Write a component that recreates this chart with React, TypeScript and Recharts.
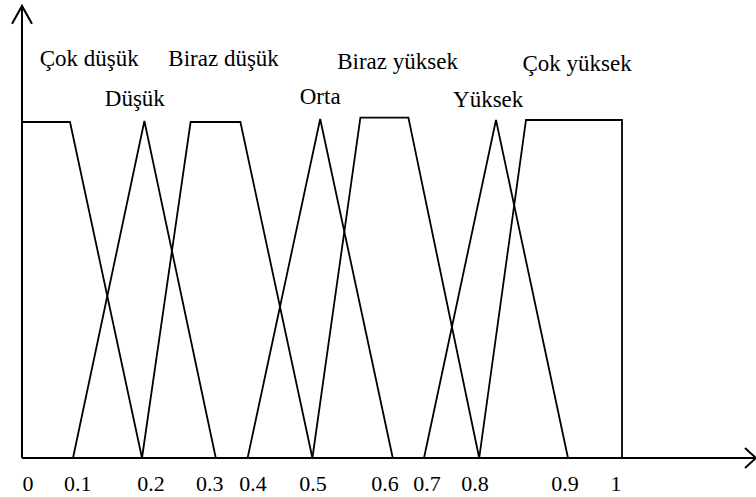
import { LineChart, Line, XAxis, YAxis, ReferenceDot } from "recharts"

// membership functions (x in 0..1 units, y = membership degree)
const cokDusuk = [
  { x: 0, y: 1 },
  { x: 0.08, y: 1 },
  { x: 0.2, y: 0 },
]
const dusuk = [
  { x: 0.085, y: 0 },
  { x: 0.204, y: 1.003 },
  { x: 0.323, y: 0 },
]
const birazDusuk = [
  { x: 0.2, y: 0 },
  { x: 0.281, y: 1 },
  { x: 0.364, y: 1 },
  { x: 0.484, y: 0 },
]
const orta = [
  { x: 0.376, y: 0 },
  { x: 0.497, y: 1.009 },
  { x: 0.618, y: 0 },
]
const birazYuksek = [
  { x: 0.484, y: 0 },
  { x: 0.564, y: 1.013 },
  { x: 0.644, y: 1.013 },
  { x: 0.762, y: 0 },
]
const yuksek = [
  { x: 0.67, y: 0 },
  { x: 0.79, y: 1.006 },
  { x: 0.91, y: 0 },
]
const cokYuksek = [
  { x: 0.762, y: 0 },
  { x: 0.84, y: 1.006 },
  { x: 1.0, y: 1.006 },
  { x: 1.0, y: 0 },
]

const seriesNames = ["Çok düşük", "Düşük", "Biraz düşük", "Orta", "Biraz yüksek", "Yüksek", "Çok yüksek"]
const seriesData = [cokDusuk, dusuk, birazDusuk, orta, birazYuksek, yuksek, cokYuksek]

// where each name sits (x centre, baseline y), in chart units
const labelX = [0.112, 0.188, 0.336, 0.497, 0.626, 0.777, 0.925]
const labelY = [1.166, 1.047, 1.166, 1.053, 1.157, 1.044, 1.151]

const tickLabels = ["0", "0.1", "0.2", "0.3", "0.4", "0.5", "0.6", "0.7", "0.8", "0.9", "1"]
const tickValues = [0.01, 0.093, 0.215, 0.313, 0.385, 0.485, 0.605, 0.675, 0.755, 0.905, 0.99]

const X_MAX = 734 / 600
const Y_MAX = 452 / 336
const FONT = "'Liberation Serif', 'Times New Roman', serif"

export default function App() {
  return (
    <div style={{ position: "absolute", left: 0, top: 0, fontFamily: FONT }}>
      <svg width={0} height={0} style={{ position: "absolute" }}>
        <defs>
          <marker id="arrowY" markerUnits="userSpaceOnUse" markerWidth={20} markerHeight={22} viewBox="-1 -1 19 21"
            refX={17} refY={9.5} orient="auto-start-reverse" overflow="visible">
            <path d="M0,0 L17,9.5 L0,19" fill="none" stroke="#000" strokeWidth={2} />
          </marker>
          <marker id="arrowX" markerUnits="userSpaceOnUse" markerWidth={14} markerHeight={22} viewBox="-1 -1 13 22"
            refX={11} refY={10} orient="auto" overflow="visible">
            <path d="M0,0 L11,10 L0,20" fill="none" stroke="#000" strokeWidth={2} />
          </marker>
        </defs>
      </svg>
      <LineChart width={756} height={497} margin={{ top: 6, right: 0, bottom: 0, left: 0 }}>
        <XAxis
          type="number"
          dataKey="x"
          domain={[0, X_MAX]}
          ticks={tickValues}
          interval={0}
          tickFormatter={(v) => tickLabels[tickValues.indexOf(v)]}
          height={39}
          tickLine={false}
          tickSize={0}
          tickMargin={17}
          tick={{ fill: "#000", fontSize: 22, fontFamily: FONT }}
          axisLine={{ stroke: "#000", strokeWidth: 2, markerEnd: "url(#arrowX)" }}
        />
        <YAxis
          type="number"
          domain={[0, Y_MAX]}
          width={22}
          tick={false}
          tickLine={false}
          axisLine={{ stroke: "#000", strokeWidth: 2, markerStart: "url(#arrowY)" }}
        />
        {seriesData.map((pts, i) => (
          <Line
            key={seriesNames[i]}
            data={pts}
            dataKey="y"
            type="linear"
            stroke="#000"
            strokeWidth={1.8}
            dot={false}
            activeDot={false}
            isAnimationActive={false}
          />
        ))}
        {seriesNames.map((name, i) => (
          <ReferenceDot
            key={"lbl-" + name}
            x={labelX[i]}
            y={labelY[i]}
            r={0}
            fill="none"
            stroke="none"
            ifOverflow="visible"
            label={(p: any) => (
              <text x={p.viewBox.x} y={p.viewBox.y} textAnchor="middle" fill="#000" fontSize={23} fontFamily={FONT}>
                {name}
              </text>
            )}
          />
        ))}
      </LineChart>
    </div>
  )
}
